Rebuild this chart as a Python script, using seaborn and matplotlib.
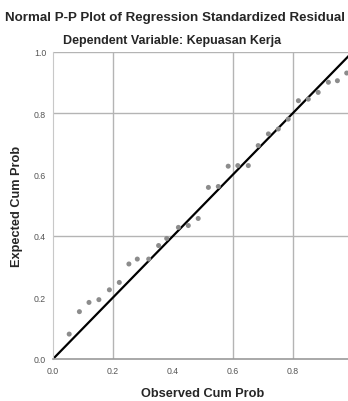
import matplotlib
matplotlib.use("Agg")
import matplotlib.pyplot as plt
import seaborn as sns
import pandas as pd

observed = [0.054, 0.088, 0.120, 0.153, 0.188, 0.221, 0.253, 0.281, 0.319, 0.352,
            0.379, 0.418, 0.451, 0.484, 0.518, 0.551, 0.584, 0.616, 0.651, 0.684,
            0.718, 0.751, 0.784, 0.818, 0.851, 0.884, 0.918, 0.948, 0.979]
expected = [0.081, 0.154, 0.184, 0.193, 0.225, 0.249, 0.309, 0.325, 0.325, 0.369,
            0.392, 0.428, 0.434, 0.457, 0.558, 0.561, 0.627, 0.629, 0.629, 0.694,
            0.732, 0.748, 0.780, 0.840, 0.845, 0.867, 0.900, 0.905, 0.930]
ref_line = [0.0, 1.0]
ticks = [0.0, 0.2, 0.4, 0.6, 0.8, 1.0]
tick_labels = ["0.0", "0.2", "0.4", "0.6", "0.8", "1.0"]
xgrid = [0.2, 0.6, 0.8]
ygrid = [0.4, 0.8, 1.0]

sns.set_style("white")
plt.rcParams['font.family'] = ['Liberation Sans', 'DejaVu Sans']

fig = plt.figure(figsize=(3.48, 4.02), dpi=100)
ax = fig.add_axes([53/348, 42/402, 300/348, 307.5/402])

df = pd.DataFrame({"Observed": observed, "Expected": expected})
line_df = pd.DataFrame({"x": ref_line, "y": ref_line})

for g in xgrid:
    ax.axvline(g, color="#b4b4b4", lw=1.0, zorder=0)
for g in ygrid:
    ax.axhline(g, color="#b4b4b4", lw=1.0, zorder=0)

sns.lineplot(data=line_df, x="x", y="y", color="black", lw=1.6, ax=ax, zorder=2)
sns.scatterplot(data=df, x="Observed", y="Expected", color="#8c8c8c", s=13,
                edgecolor="none", ax=ax, zorder=3)

ax.set_xlim(0, 1)
ax.set_ylim(0, 1)
ax.set_xticks(ticks)
ax.set_xticklabels(tick_labels)
ax.set_yticks(ticks)
ax.set_yticklabels(tick_labels)
ax.tick_params(axis="both", labelsize=6.3, colors="#555555", length=2, pad=3)

for s in ["top", "right"]:
    ax.spines[s].set_visible(False)
ax.spines["left"].set_color("#c8c8c8")
ax.spines["bottom"].set_color("#999999")
ax.spines["bottom"].set_linewidth(1.2)

ax.set_xlabel("Observed Cum Prob", fontsize=9.2, fontweight="bold", labelpad=9)
ax.set_ylabel("Expected Cum Prob", fontsize=9.2, fontweight="bold", labelpad=8)

fig.text(175/348, 0.955, "Normal P-P Plot of Regression Standardized Residual",
         ha="center", va="center", fontsize=9.6, fontweight="bold")
fig.text(172/348, 0.897, "Dependent Variable: Kepuasan Kerja",
         ha="center", va="center", fontsize=9.0, fontweight="bold")

fig.savefig("out.png", dpi=100)
